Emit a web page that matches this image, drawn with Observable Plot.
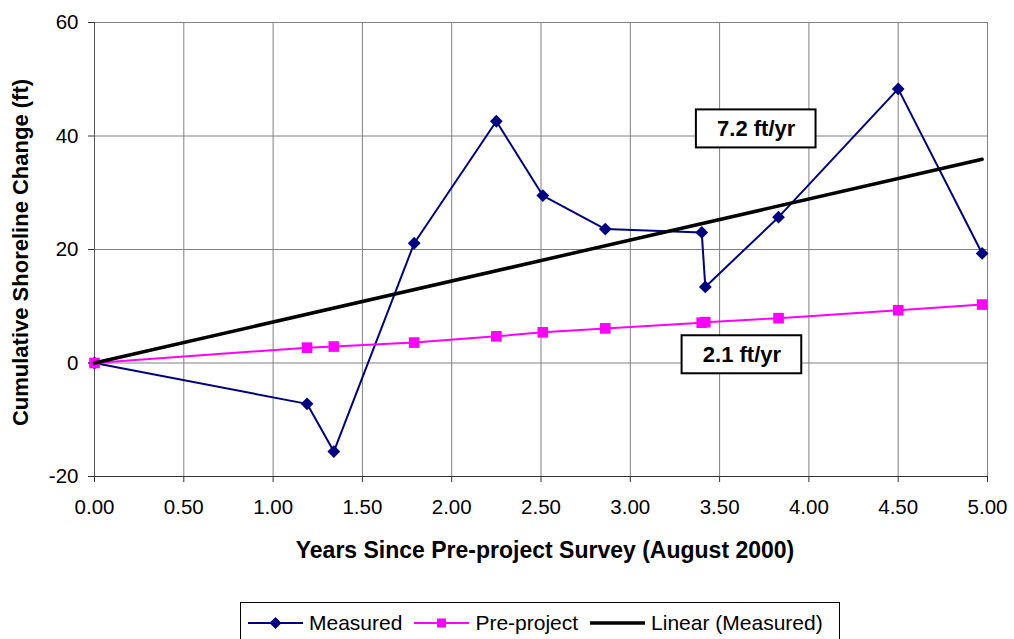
<!DOCTYPE html>
<html>
<head>
<meta charset="utf-8">
<script src="https://cdn.jsdelivr.net/npm/d3@7"></script>
<script src="https://cdn.jsdelivr.net/npm/@observablehq/plot@0.6"></script>
<style>
  body { margin: 0; background: #fff; }
  #wrap { position: relative; width: 1014px; height: 639px; overflow: hidden; font-family: Arial, "Liberation Sans", sans-serif; }
  #legend { position: absolute; left: 240px; top: 602px; width: 600px; height: 60px; border: 1px solid #000; box-sizing: border-box; background: #fff; }
  #legend .items { display: flex; align-items: center; padding: 6px 0 0 7px; font-size: 21px; line-height: 28px; color: #000; }
  #legend .item { display: flex; align-items: center; margin-right: 12px; }
  #legend svg { margin-right: 6px; }
</style>
</head>
<body>
<div id="wrap"></div>
<script>
// ---- data ----
const years      = [0, 1.19, 1.34, 1.79, 2.25, 2.51, 2.86, 3.40, 3.42, 3.83, 4.50, 4.97];
const measured   = [0, -7.2, -15.6, 21.1, 42.6, 29.5, 23.6, 23.0, 13.4, 25.7, 48.3, 19.3];
const preproject = [0, 2.7, 2.9, 3.6, 4.7, 5.4, 6.1, 7.1, 7.2, 7.9, 9.3, 10.3];
const trendYears = [0, 4.97];
const trendValues = [0, 35.9];
const xTicks = [0, 0.5, 1, 1.5, 2, 2.5, 3, 3.5, 4, 4.5, 5];
const yTicks = [-20, 0, 20, 40, 60];
const rateLabels = ["7.2 ft/yr", "2.1 ft/yr"];
const rateBoxX1 = [3.37, 3.29];
const rateBoxX2 = [4.04, 3.96];
const rateBoxY1 = [37.9, -1.9];
const rateBoxY2 = [44.6, 4.8];
const seriesNames = ["Measured", "Pre-project", "Linear (Measured)"];
const xTitle = "Years Since Pre-project Survey (August 2000)";
const yTitle = "Cumulative Shoreline Change (ft)";

// ---- tables ----
const measRows = years.map((x, i) => ({x, y: measured[i]}));
const preRows = years.map((x, i) => ({x, y: preproject[i]}));
const trendRows = trendYears.map((x, i) => ({x, y: trendValues[i]}));
const boxes = rateLabels.map((t, i) => ({t, x1: rateBoxX1[i], x2: rateBoxX2[i], y1: rateBoxY1[i], y2: rateBoxY2[i]}));

const NAVY = "#000080", MAGENTA = "#FF00FF";
const diamond = {
  draw(ctx, size) {
    const r = Math.sqrt(size / 2);
    ctx.moveTo(0, -r); ctx.lineTo(r, 0); ctx.lineTo(0, r); ctx.lineTo(-r, 0); ctx.closePath();
  }
};

const chart = Plot.plot({
  width: 1014,
  height: 570,
  marginTop: 22,
  marginBottom: 94,
  marginLeft: 94,
  marginRight: 27,
  style: { fontFamily: 'Arial, "Liberation Sans", sans-serif', fontSize: "20px", color: "#000", background: "#fff" },
  x: { domain: [0, 5] },
  y: { domain: [-20, 60] },
  marks: [
    Plot.gridX(xTicks, { stroke: "#808080", strokeOpacity: 1 }),
    Plot.gridY(yTicks, { stroke: "#808080", strokeOpacity: 1 }),
    Plot.frame({ stroke: "#808080" }),
    Plot.ruleX([0], { stroke: "#555" }),
    Plot.ruleY([-20], { stroke: "#333" }),
    Plot.axisX({ ticks: xTicks, tickFormat: d3.format(".2f"), tickSize: 6, tickPadding: 17, label: null, stroke: "#333", fontSize: 20.5 }),
    Plot.axisY({ ticks: yTicks, tickFormat: d => d < 0 ? "-" + Math.abs(d) : String(d), tickSize: 6, tickPadding: 10, label: null, stroke: "#333", fontSize: 20.5 }),
    Plot.text([xTitle], { text: d => d, frameAnchor: "bottom", textAnchor: "middle", dy: 74, dx: 4, fontWeight: "bold", fontSize: 23, lineAnchor: "middle" }),
    Plot.text([yTitle], { text: d => d, frameAnchor: "left", textAnchor: "middle", rotate: -90, dx: -74, dy: 3, fontWeight: "bold", fontSize: 22, lineAnchor: "middle" }),
    Plot.line(measRows, { x: "x", y: "y", stroke: NAVY, strokeWidth: 2 }),
    Plot.dot(measRows, { x: "x", y: "y", symbol: diamond, r: 5.1, fill: NAVY, stroke: "none" }),
    Plot.line(preRows, { x: "x", y: "y", stroke: MAGENTA, strokeWidth: 2 }),
    Plot.dot(preRows, { x: "x", y: "y", symbol: "square", r: 6, fill: MAGENTA, stroke: "none" }),
    Plot.line(trendRows, { x: "x", y: "y", stroke: "#000", strokeWidth: 3.5 }),
    Plot.rect(boxes, { x1: "x1", x2: "x2", y1: "y1", y2: "y2", fill: "#fff", stroke: "#000", strokeWidth: 2 }),
    Plot.text(boxes, { x: d => (d.x1 + d.x2) / 2, y: d => (d.y1 + d.y2) / 2, text: "t", fontWeight: "bold", fontSize: 22, lineAnchor: "middle" })
  ]
});
document.getElementById("wrap").appendChild(chart);

// ---- legend ----
const legend = document.createElement("div");
legend.id = "legend";
const swatches = [
  `<svg width="55" height="20"><line x1="0" y1="10" x2="55" y2="10" stroke="${NAVY}" stroke-width="2"/><path d="M27.5,4 L33.5,10 L27.5,16 L21.5,10 Z" fill="${NAVY}"/></svg>`,
  `<svg width="55" height="20"><line x1="0" y1="10" x2="55" y2="10" stroke="${MAGENTA}" stroke-width="2"/><rect x="23" y="5.5" width="9" height="9" fill="${MAGENTA}"/></svg>`,
  `<svg width="55" height="20"><line x1="0" y1="10" x2="55" y2="10" stroke="#000" stroke-width="3.5"/></svg>`
];
legend.innerHTML = `<div class="items">${seriesNames.map((n, i) => `<div class="item">${swatches[i]}<span>${n}</span></div>`).join("")}</div>`;
document.getElementById("wrap").appendChild(legend);
</script>
</body>
</html>
